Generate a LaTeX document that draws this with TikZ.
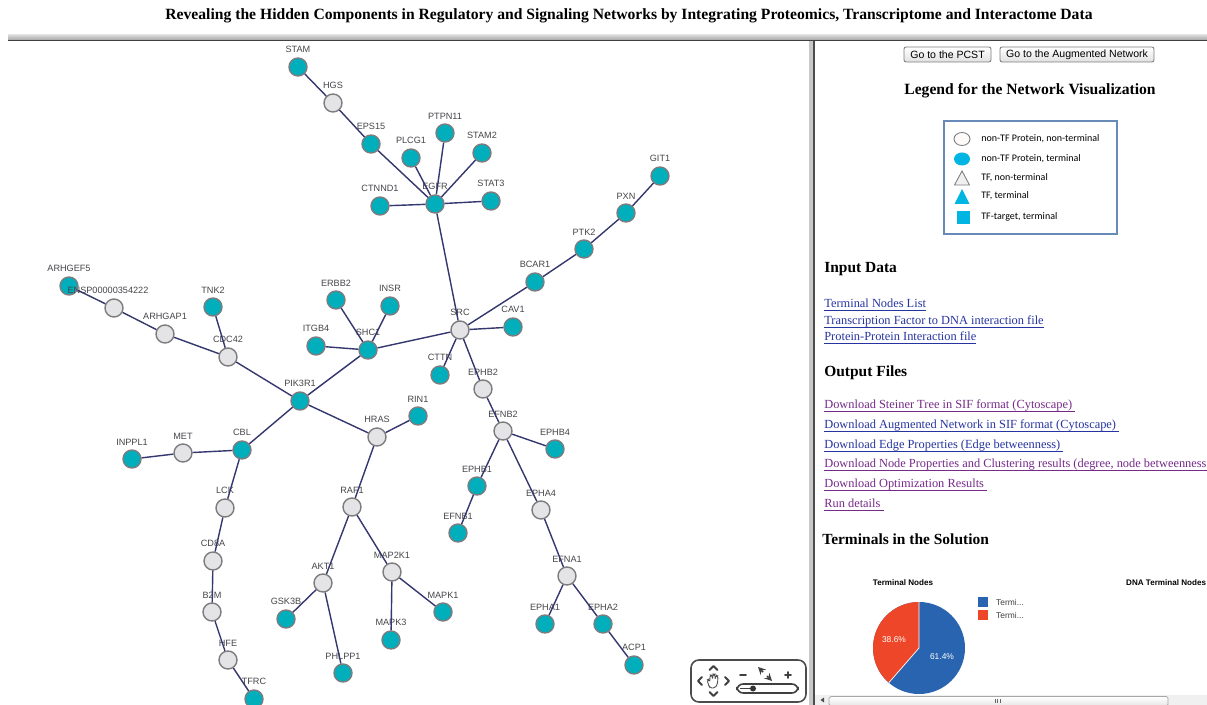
\documentclass[tikz,border=0pt]{standalone}
\usepackage{fontspec}
\setmainfont{Liberation Serif}
\setsansfont{Liberation Sans}
\newfontfamily\legendfont{Carlito}
\usetikzlibrary{arrows}

\definecolor{termteal}{RGB}{0,174,188}
\definecolor{steinergray}{RGB}{228,228,231}
\definecolor{ringgray}{RGB}{125,125,128}
\definecolor{edgeblue}{RGB}{52,56,110}
\definecolor{lblgray}{RGB}{70,70,75}
\definecolor{linkblue}{RGB}{38,52,160}
\definecolor{linkpurple}{RGB}{118,42,138}
\definecolor{legcyan}{RGB}{0,181,226}
\definecolor{legframe}{RGB}{104,138,184}
\definecolor{pieblue}{RGB}{40,100,176}
\definecolor{piered}{RGB}{238,70,40}
\definecolor{panelgray}{RGB}{200,200,202}

\begin{document}
\begin{tikzpicture}[x=0.02cm, y=-0.02cm,
	tnode/.style={circle, draw=ringgray, line width=0.8pt, fill=termteal, minimum size=0.36cm, inner sep=0pt},
	snode/.style={tnode, fill=steinergray},
	every label/.style={font=\sffamily\fontsize{5.2}{6}\selectfont, text=lblgray, inner sep=0pt},
	label distance=2.2pt,
	edge/.style={draw=edgeblue, line width=0.8pt},
	header/.style={font=\bfseries\fontsize{8.8}{10}\selectfont, anchor=west, inner sep=0pt},
	bluelink/.style={font=\fontsize{7.05}{8}\selectfont, text=linkblue, anchor=base west, inner sep=0pt},
	purplelink/.style={bluelink, text=linkpurple},
	legtext/.style={font=\legendfont\fontsize{5.7}{7}\selectfont, anchor=west, inner sep=0pt},
	button/.style={draw=ringgray, rounded corners=1.2pt, top color=white, bottom color=black!12, line width=0.5pt},
	navline/.style={draw=black!75, line width=1.1pt, line cap=round, line join=round}]
	\fill[white] (0,0) rectangle (1207,705);
	\useasboundingbox (0,0) rectangle (1207,705);

	\node[font=\bfseries\fontsize{8.9}{10}\selectfont] (title) at (629,16) {Revealing the Hidden Components in Regulatory and Signaling Networks by Integrating Proteomics, Transcriptome and Interactome Data};
	\shade[top color=black!15, bottom color=black!35] (8,35) rectangle (1207,40);
	\draw[black!75, line width=0.9pt] (8,40.5) -- (1207,40.5);
	\fill[panelgray] (809,41) rectangle (813,705);
	\draw[black!70, line width=0.9pt] (813.8,41) -- (813.8,705);

	\node[tnode, label={above:STAM}] (stam) at (298,67) {};
	\node[snode, label={above:HGS}] (hgs) at (333,103) {};
	\node[tnode, label={above:EPS15}] (eps15) at (371,144) {};
	\node[tnode, label={above:PLCG1}] (plcg1) at (411,158) {};
	\node[tnode, label={above:PTPN11}] (ptpn11) at (445,133) {};
	\node[tnode, label={above:STAM2}] (stam2) at (482,153) {};
	\node[tnode, label={above:GIT1}] (git1) at (660,176) {};
	\node[tnode, label={above:PXN}] (pxn) at (626,213) {};
	\node[tnode, label={above:PTK2}] (ptk2) at (584,249) {};
	\node[tnode, label={above:BCAR1}] (bcar1) at (535,282) {};
	\node[tnode, label={above:CTNND1}] (ctnnd1) at (380,206) {};
	\node[tnode, label={above:EGFR}] (egfr) at (435,204) {};
	\node[tnode, label={above:STAT3}] (stat3) at (491,201) {};
	\node[tnode, label={above:ARHGEF5}] (arhgef5) at (69,286) {};
	\node[snode, label={[xshift=-0.12cm]above:ENSP00000354222}] (ensp) at (114,308) {};
	\node[snode, label={above:ARHGAP1}] (arhgap1) at (165,334) {};
	\node[tnode, label={above:TNK2}] (tnk2) at (213,307) {};
	\node[snode, label={above:CDC42}] (cdc42) at (228,357) {};
	\node[tnode, label={above:ERBB2}] (erbb2) at (336,300) {};
	\node[tnode, label={above:INSR}] (insr) at (390,306) {};
	\node[tnode, label={above:ITGB4}] (itgb4) at (316,346) {};
	\node[tnode, label={above:SHC1}] (shc1) at (368,350) {};
	\node[snode, label={above:SRC}] (src) at (460,330) {};
	\node[tnode, label={above:CAV1}] (cav1) at (513,327) {};
	\node[tnode, label={above:CTTN}] (cttn) at (440,375) {};
	\node[snode, label={above:EPHB2}] (ephb2) at (483,389) {};
	\node[tnode, label={above:PIK3R1}] (pik3r1) at (300,401) {};
	\node[tnode, label={above:RIN1}] (rin1) at (418,416) {};
	\node[snode, label={above:HRAS}] (hras) at (377,437) {};
	\node[tnode, label={above:INPPL1}] (inppl1) at (132,459) {};
	\node[snode, label={above:MET}] (met) at (183,453) {};
	\node[tnode, label={above:CBL}] (cbl) at (242,450) {};
	\node[snode, label={above:EFNB2}] (efnb2) at (503,431) {};
	\node[tnode, label={above:EPHB4}] (ephb4) at (555,449) {};
	\node[tnode, label={above:EPHB1}] (ephb1) at (477,486) {};
	\node[tnode, label={above:EFNB1}] (efnb1) at (458,533) {};
	\node[snode, label={above:EPHA4}] (epha4) at (541,510) {};
	\node[snode, label={above:LCK}] (lck) at (225,508) {};
	\node[snode, label={above:RAF1}] (raf1) at (352,507) {};
	\node[snode, label={above:CD8A}] (cd8a) at (213,561) {};
	\node[snode, label={above:MAP2K1}] (map2k1) at (392,572) {};
	\node[snode, label={above:AKT1}] (akt1) at (323,583) {};
	\node[snode, label={above:EFNA1}] (efna1) at (567,576) {};
	\node[snode, label={above:B2M}] (b2m) at (212,612) {};
	\node[tnode, label={above:GSK3B}] (gsk3b) at (286,619) {};
	\node[tnode, label={above:MAPK1}] (mapk1) at (443,612) {};
	\node[tnode, label={above:MAPK3}] (mapk3) at (391,640) {};
	\node[tnode, label={above:EPHA1}] (epha1) at (545,624) {};
	\node[tnode, label={above:EPHA2}] (epha2) at (603,624) {};
	\node[snode, label={above:HFE}] (hfe) at (228,660) {};
	\node[tnode, label={above:PHLPP1}] (phlpp1) at (343,673) {};
	\node[tnode, label={above:ACP1}] (acp1) at (634,665) {};
	\node[tnode, label={above:TFRC}] (tfrc) at (254,699) {};

	\draw[edge] (stam) -- (hgs) (hgs) -- (eps15) (eps15) -- (egfr) (plcg1) -- (egfr)
		(ptpn11) -- (egfr) (stam2) -- (egfr) (ctnnd1) -- (egfr) (stat3) -- (egfr)
		(egfr) -- (src) (src) -- (bcar1) (bcar1) -- (ptk2) (ptk2) -- (pxn) (pxn) -- (git1)
		(src) -- (cav1) (src) -- (cttn) (src) -- (ephb2) (src) -- (shc1)
		(shc1) -- (erbb2) (shc1) -- (insr) (shc1) -- (itgb4) (shc1) -- (pik3r1)
		(arhgef5) -- (ensp) (ensp) -- (arhgap1) (arhgap1) -- (cdc42) (tnk2) -- (cdc42) (cdc42) -- (pik3r1)
		(pik3r1) -- (hras) (hras) -- (rin1) (hras) -- (raf1) (raf1) -- (akt1) (raf1) -- (map2k1)
		(akt1) -- (gsk3b) (akt1) -- (phlpp1) (map2k1) -- (mapk3) (map2k1) -- (mapk1)
		(pik3r1) -- (cbl) (cbl) -- (met) (met) -- (inppl1) (cbl) -- (lck) (lck) -- (cd8a)
		(cd8a) -- (b2m) (b2m) -- (hfe) (hfe) -- (tfrc)
		(ephb2) -- (efnb2) (efnb2) -- (ephb4) (efnb2) -- (ephb1) (ephb1) -- (efnb1)
		(efnb2) -- (epha4) (epha4) -- (efna1) (efna1) -- (epha1) (efna1) -- (epha2) (epha2) -- (acp1);

	\draw[navline, black!70, line width=0.9pt, rounded corners=4.5pt] (691,660) rectangle (806,702);
	\draw[navline] (709.5,670) -- (713.5,666) -- (717.5,670);
	\draw[navline] (709.5,692) -- (713.5,696) -- (717.5,692);
	\draw[navline] (702,677) -- (698,681) -- (702,685);
	\draw[navline] (725,677) -- (729,681) -- (725,685);
	\draw[black!70, line width=0.5pt, rounded corners=1pt] (709,686) -- (707,680) -- (709,679) -- (710,682) -- (710,675) -- (712,675) -- (712.5,680) -- (713,674) -- (715,674) -- (715,680) -- (716,675) -- (718,676) -- (717.5,684) -- (715,688) -- (710,688) -- cycle;
	\draw[navline] (740,675) -- (746,675);
	\draw[navline] (785,675) -- (791,675) (788,672) -- (788,678);
	\draw[black!75, line width=0.9pt, -stealth] (763,672) -- (758,667);
	\draw[black!75, line width=0.9pt, -stealth] (767,676) -- (772,681);
	\draw[black!75, line width=0.9pt, rounded corners=3.5pt] (737,684) rectangle (798,693);
	\draw[black!75, line width=0.9pt] (740,688.5) -- (753,688.5);
	\fill[black!80] (753,688.5) circle [radius=3];

	\node[button, minimum width=1.74cm, minimum height=0.3cm] (pcst) at (947.5,54.5) {};
	\node[font=\sffamily\fontsize{6}{7}\selectfont] at (pcst) {Go to the PCST};
	\node[button, minimum width=3.08cm, minimum height=0.3cm] (augment) at (1077,54.5) {};
	\node[font=\sffamily\fontsize{6}{7}\selectfont] at (augment) {Go to the Augmented Network};
	\node[header, anchor=center, font=\bfseries\fontsize{8.9}{10}\selectfont] (legendhead) at (1030,91) {Legend for the Network Visualization};
	\draw[legframe, line width=0.8pt] (944,121) rectangle (1117,234);
	\draw[ringgray, fill=black!8!red!2!white, line width=0.5pt] (962,139) ellipse [x radius=8, y radius=6.5];
	\fill[legcyan] (962,159) ellipse [x radius=8, y radius=6.5];
	\draw[ringgray, fill=black!6, line width=0.5pt] (954.5,185) -- (969.5,185) -- (962,171) -- cycle;
	\fill[legcyan] (954.5,204) -- (969.5,204) -- (962,189) -- cycle;
	\fill[legcyan] (956.5,211) rectangle (969.5,224);
	\node[legtext] (leg1) at (981,139) {non-TF Protein, non-terminal};
	\node[legtext] (leg2) at (981,159) {non-TF Protein, terminal};
	\node[legtext] (leg3) at (981,178) {TF, non-terminal};
	\node[legtext] (leg4) at (981,196) {TF, terminal};
	\node[legtext] (leg5) at (981,217) {TF-target, terminal};

	\node[header] (inputhead) at (824,269) {Input Data};
	\node[bluelink] (link1) at (824,308) {\underline{\smash{Terminal Nodes List}}};
	\node[bluelink] (link2) at (824,325) {\underline{\smash{Transcription Factor to DNA interaction file}}};
	\node[bluelink] (link3) at (824,341) {\underline{\smash{Protein-Protein Interaction file}}};
	\node[header] (outputhead) at (824,373) {Output Files};
	\node[purplelink] (out1) at (824,409) {\underline{\smash{Download Steiner Tree in SIF format (Cytoscape)\ }}};
	\node[bluelink] (out2) at (824,429) {\underline{\smash{Download Augmented Network in SIF format (Cytoscape)\ }}};
	\node[bluelink] (out3) at (824,449) {\underline{\smash{Download Edge Properties (Edge betweenness)\ }}};
	\node[purplelink] (out4) at (824,468) {\underline{\smash{Download Node Properties and Clustering results (degree, node betweenness)}}};
	\node[purplelink] (out5) at (824,488) {\underline{\smash{Download Optimization Results\ }}};
	\node[purplelink] (out6) at (824,508) {\underline{\smash{Run details\ }}};
	\node[header] (termhead) at (822,539) {Terminals in the Solution};

	\node[font=\sffamily\bfseries\fontsize{4.6}{5}\selectfont] (pietitle) at (903,583) {Terminal Nodes};
	\node[font=\sffamily\bfseries\fontsize{4.6}{5}\selectfont, anchor=west] (dnatitle) at (1120,583) {DNA Terminal Nodes};
	\coordinate (pie) at (919,648);
	\fill[pieblue] (pie) circle [radius=46];
	\fill[piered] (pie) -- ++(-90:46) arc [start angle=-90, end angle=-229, radius=46] -- cycle;
	\draw[white, line width=0.4pt] (pie) -- ++(-90:46) (pie) -- ++(-229:46);
	\node[font=\sffamily\fontsize{4.8}{5}\selectfont, text=white] (redpct) at (894,640) {38.6\%};
	\node[font=\sffamily\fontsize{4.8}{5}\selectfont, text=white] (bluepct) at (942,657) {61.4\%};
	\fill[pieblue] (978,597) rectangle (988,607);
	\fill[piered] (978,610) rectangle (988,620);
	\node[font=\sffamily\fontsize{4.8}{5}\selectfont, anchor=west, text=black!75] (pieleg1) at (990,602) {Termi...};
	\node[font=\sffamily\fontsize{4.8}{5}\selectfont, anchor=west, text=black!75] (pieleg2) at (990,615) {Termi...};

	\fill[black!6] (815,695) rectangle (1207,705);
	\draw[black!35, top color=white, bottom color=black!10, rounded corners=1pt] (829,696.5) rectangle (1168,706);
	\draw[black!60, line width=0.4pt] (995,699) -- (995,703) (997.5,699) -- (997.5,703) (1000,699) -- (1000,703);
	\fill[black!70] (824,697.5) -- (820.5,700) -- (824,702.5) -- cycle;
\end{tikzpicture}
\end{document}
